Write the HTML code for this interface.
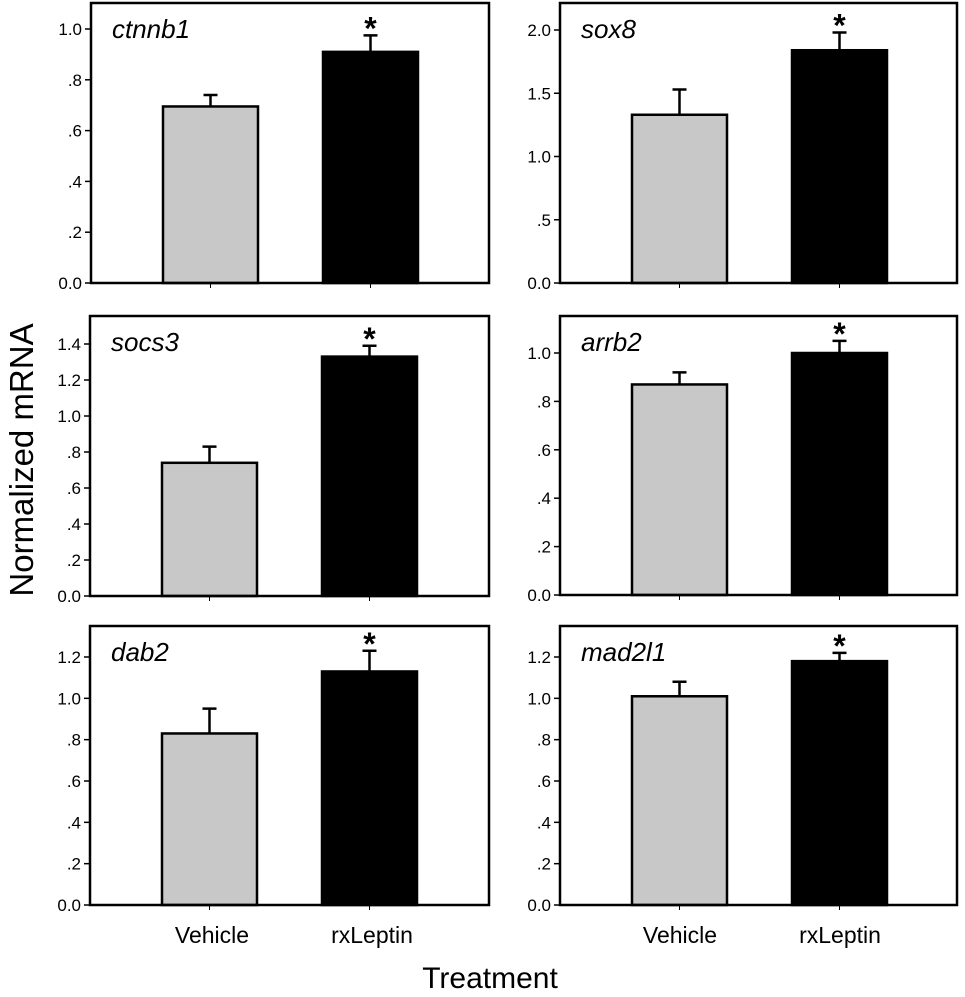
<!DOCTYPE html>
<html><head><meta charset="utf-8">
<style>
html,body{margin:0;padding:0;background:#fff;}
svg{display:block;}
text{font-family:"Liberation Sans",Arial,sans-serif;fill:#000;}
</style></head>
<body>
<svg id="fig" width="965" height="997" viewBox="0 0 965 997">
<text x="0" y="0" transform="translate(33,460) rotate(-90)" text-anchor="middle" font-size="33">Normalized mRNA</text>
<text x="490" y="988" text-anchor="middle" font-size="30">Treatment</text>
<text x="212" y="943" text-anchor="middle" font-size="23">Vehicle</text>
<text x="372" y="943" text-anchor="middle" font-size="23">rxLeptin</text>
<text x="680" y="943" text-anchor="middle" font-size="23">Vehicle</text>
<text x="840" y="943" text-anchor="middle" font-size="23">rxLeptin</text>
</svg>
<script>
const genes = ["ctnnb1","sox8","socs3","arrb2","dab2","mad2l1"];
const vehicleMeans = [0.695, 1.33, 0.74, 0.87, 0.83, 1.01];
const vehicleErrs  = [0.045, 0.20, 0.09, 0.05, 0.12, 0.07];
const leptinMeans  = [0.91, 1.84, 1.33, 1.00, 1.13, 1.18];
const leptinErrs   = [0.065, 0.14, 0.06, 0.05, 0.10, 0.04];
const tickValues = [
  [0,0.2,0.4,0.6,0.8,1.0],
  [0,0.5,1.0,1.5,2.0],
  [0,0.2,0.4,0.6,0.8,1.0,1.2,1.4],
  [0,0.2,0.4,0.6,0.8,1.0],
  [0,0.2,0.4,0.6,0.8,1.0,1.2],
  [0,0.2,0.4,0.6,0.8,1.0,1.2]
];
const tickLabels = [
  ["0.0",".2",".4",".6",".8","1.0"],
  ["0.0",".5","1.0","1.5","2.0"],
  ["0.0",".2",".4",".6",".8","1.0","1.2","1.4"],
  ["0.0",".2",".4",".6",".8","1.0"],
  ["0.0",".2",".4",".6",".8","1.0","1.2"],
  ["0.0",".2",".4",".6",".8","1.0","1.2"]
];
// layout (pixels)
const layout = [
  {L:91,R:489,T:3,B:283,topV:1.0,topY:29},
  {L:560,R:957,T:3,B:283,topV:2.0,topY:30},
  {L:90,R:489,T:316,B:596,topV:1.4,topY:344},
  {L:560,R:957,T:316,B:595,topV:1.0,topY:353},
  {L:90,R:489,T:626,B:905,topV:1.2,topY:657},
  {L:560,R:957,T:626,B:905,topV:1.2,topY:657}
];
const NS="http://www.w3.org/2000/svg";
const svg=document.getElementById('fig');
function mk(tag,attrs,parent){const e=document.createElementNS(NS,tag);for(const k in attrs)e.setAttribute(k,attrs[k]);(parent||svg).appendChild(e);return e;}
genes.forEach((g,i)=>{
  const p=layout[i];
  const y=v=>p.B-(v/p.topV)*(p.B-p.topY);
  const grp=mk('g',{});
  
  
  const bars=[[vehicleMeans[i],vehicleErrs[i],p.L+72,'#c8c8c8','vehicle'],[leptinMeans[i],leptinErrs[i],p.L+232,'#000','rxleptin']];
  bars.forEach(b=>{
    const [m,e,x,fill,nm]=b;
    const w=95,cx=x+w/2;
    const err=mk('path',{d:`M${cx},${y(m)} V${y(m+e)} M${cx-7},${y(m+e)} H${cx+7}`,stroke:'#000','stroke-width':2.5,fill:'none'},grp);
    
    
    const r=mk('rect',{x:x,y:y(m),width:w,height:p.B-y(m),fill:fill,stroke:'#000','stroke-width':2.5},grp);
    
    
    const t=mk('line',{x1:cx,x2:cx,y1:p.B,y2:p.B+5,stroke:'#000','stroke-width':1},grp);
    
    
  });
  const ax=p.L+232+47.5;
  const st=mk('text',{x:ax,y:y(leptinMeans[i]+leptinErrs[i])+4,'text-anchor':'middle','font-size':32,'font-weight':'bold'},grp);
  st.textContent='*';
  
  
  const fr=mk('rect',{x:p.L,y:p.T,width:p.R-p.L,height:p.B-p.T,fill:'none',stroke:'#000','stroke-width':2.5},grp);
  
  
  tickValues[i].forEach((v,k)=>{
    const ty=y(v);
    const tl=mk('line',{x1:p.L-6,x2:p.L,y1:ty,y2:ty,stroke:'#000','stroke-width':1.5},grp);
    
    
    const tx=mk('text',{x:p.L-9,y:ty+6,'text-anchor':'end','font-size':17},grp);
    tx.textContent=tickLabels[i][k];
    
    
  });
  const gl=mk('text',{x:p.L+21,y:p.T+35,'font-size':26,'font-style':'italic'},grp);
  gl.textContent=g;
  
  
});
</script>
</body></html>
